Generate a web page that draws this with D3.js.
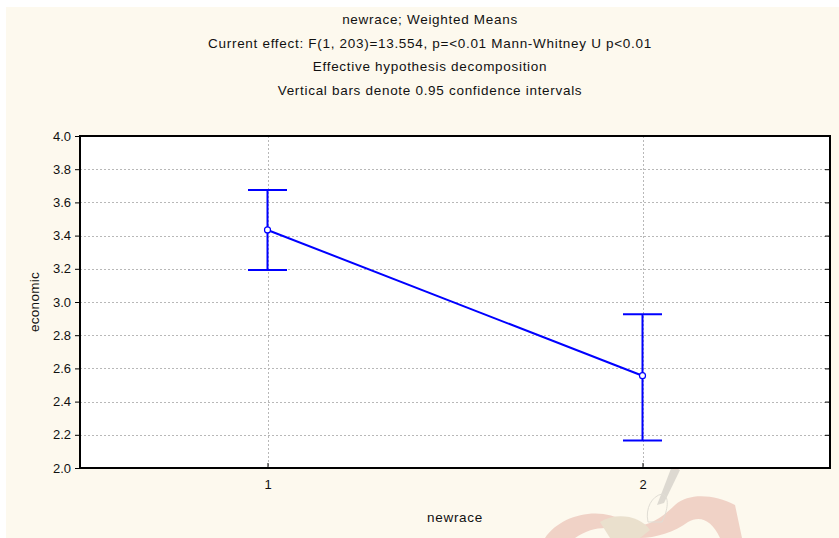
<!DOCTYPE html>
<html>
<head>
<meta charset="utf-8">
<script src="https://cdn.jsdelivr.net/npm/d3@7/dist/d3.min.js"></script>
<style>
  html, body { margin: 0; padding: 0; background: #ffffff; }
  svg { display: block; }
  text { font-family: "Liberation Sans", Arial, sans-serif; fill: #111; }
</style>
</head>
<body>
<svg id="chart" width="839" height="538"></svg>
<script>
// Weighted means of "economic" by newrace, with 0.95 confidence intervals
const categories = ["1", "2"];
const means = [3.434, 2.556];
const ciLower = [3.193, 2.166];
const ciUpper = [3.675, 2.926];
const yTicks = [2.0, 2.2, 2.4, 2.6, 2.8, 3.0, 3.2, 3.4, 3.6, 3.8, 4.0];
const titleLines = [
  "newrace; Weighted Means",
  "Current effect: F(1, 203)=13.554, p=<0.01 Mann-Whitney U p<0.01",
  "Effective hypothesis decomposition",
  "Vertical bars denote 0.95 confidence intervals"
];
const xLabel = "newrace";
const yLabel = "economic";

const W = 839, H = 538;
const plot = { left: 80, right: 830, top: 136, bottom: 468 };
const FONT = "Liberation Sans, Arial, sans-serif";

const svg = d3.select("#chart");

// panel background
svg.append("rect")
  .attr("x", 6).attr("y", 7)
  .attr("width", W - 6).attr("height", H - 7)
  .attr("fill", "#fdf9ee");

// faint emblem in the lower right corner of the panel
const emblem = svg.append("g").attr("opacity", 0.2);
emblem.append("path")   // ribbon
  .attr("d", "M545,538 C560,515 600,505 625,522 C640,532 660,520 675,505 C690,492 715,495 735,505 L742,538 L720,538 C712,520 700,515 688,522 C675,532 655,538 640,538 C625,530 600,520 575,538 Z")
  .attr("fill", "#c0392b");
emblem.append("path")
  .attr("d", "M600,522 C615,512 640,515 650,530 L640,538 L610,538 Z")
  .attr("fill", "#a08050");
emblem.append("path")   // torch handle
  .attr("d", "M657,505 L664,503 L680,470 L672,466 Z")
  .attr("fill", "#606060");
emblem.append("path")   // hand
  .attr("d", "M648,522 C645,508 652,496 662,494 C670,496 668,510 662,522 Z")
  .attr("fill", "none").attr("stroke", "#707070").attr("stroke-width", 1);
emblem.append("path")   // flame
  .attr("d", "M670,468 C668,458 675,452 684,446 C690,444 694,440 698,436 C696,446 693,455 688,462 C684,468 678,472 670,468 Z")
  .attr("fill", "#c0392b");

// titles
svg.append("g").selectAll("text")
  .data(titleLines)
  .join("text")
  .attr("x", 430)
  .attr("y", (d, i) => 24 + i * 23.7)
  .attr("text-anchor", "middle")
  .style("font-size", "13.5px")
  .attr("letter-spacing", 0.7)
  .text(d => d);

const x = d3.scalePoint().domain(categories).range([plot.left, plot.right]).padding(0.5);
const y = d3.scaleLinear().domain([2.0, 4.0]).range([plot.bottom, plot.top]);

// plot area
svg.append("rect")
  .attr("x", plot.left).attr("y", plot.top)
  .attr("width", plot.right - plot.left).attr("height", plot.bottom - plot.top)
  .attr("fill", "#ffffff");

// grid
const grid = svg.append("g").attr("stroke", "#b8b8b8").attr("stroke-width", 1)
  .attr("stroke-dasharray", "2,2");
grid.selectAll("line.h")
  .data(yTicks.filter(t => t > 2.0 && t < 4.0))
  .join("line")
  .attr("class", "h")
  .attr("x1", plot.left).attr("x2", plot.right)
  .attr("y1", d => Math.round(y(d)) + 0.5).attr("y2", d => Math.round(y(d)) + 0.5);
grid.selectAll("line.v")
  .data(categories)
  .join("line")
  .attr("class", "v")
  .attr("x1", d => Math.round(x(d)) + 0.5).attr("x2", d => Math.round(x(d)) + 0.5)
  .attr("y1", plot.top).attr("y2", plot.bottom);

// y axis (ticks outside on the left)
const yAxis = d3.axisLeft(y).tickValues(yTicks).tickFormat(d3.format(".1f"))
  .tickSizeInner(5).tickSizeOuter(0).tickPadding(4);
const gy = svg.append("g").attr("transform", `translate(${plot.left},0)`).call(yAxis);
gy.select(".domain").remove();
gy.selectAll(".tick line").attr("stroke", "#000");
gy.selectAll(".tick text").style("font-size", "13px").style("font-family", FONT).attr("fill", "#111");

// right side inner ticks
const yAxisR = d3.axisLeft(y).tickValues(yTicks).tickFormat("").tickSizeInner(5).tickSizeOuter(0);
const gyr = svg.append("g").attr("transform", `translate(${plot.right},0)`).call(yAxisR);
gyr.select(".domain").remove();
gyr.selectAll(".tick line").attr("stroke", "#000");

// x axis (ticks inside, pointing up)
const xAxis = d3.axisBottom(x).tickSizeInner(-5).tickSizeOuter(0).tickPadding(12);
const gx = svg.append("g").attr("transform", `translate(0,${plot.bottom})`).call(xAxis);
gx.select(".domain").remove();
gx.selectAll(".tick line").attr("stroke", "#000");
gx.selectAll(".tick text").style("font-size", "13px").style("font-family", FONT).attr("fill", "#111");

// frame
svg.append("rect")
  .attr("x", plot.left).attr("y", plot.top)
  .attr("width", plot.right - plot.left).attr("height", plot.bottom - plot.top)
  .attr("fill", "none").attr("stroke", "#000").attr("stroke-width", 2);

// axis titles
svg.append("text")
  .attr("x", 455).attr("y", 522)
  .attr("text-anchor", "middle").style("font-size", "13.5px").attr("letter-spacing", 0.7)
  .text(xLabel);
svg.append("text")
  .attr("transform", `translate(39,${(plot.top + plot.bottom) / 2}) rotate(-90)`)
  .attr("text-anchor", "middle").style("font-size", "13.5px").attr("letter-spacing", 0.3)
  .text(yLabel);

// data series
const data = categories.map((c, i) => ({ c, m: means[i], lo: ciLower[i], hi: ciUpper[i] }));
const blue = "#0000ff";
const capHalf = 19.5;

const bars = svg.append("g").attr("stroke", blue).attr("stroke-width", 2).attr("fill", "none");
bars.selectAll("line.whisker")
  .data(data).join("line").attr("class", "whisker")
  .attr("x1", d => x(d.c)).attr("x2", d => x(d.c))
  .attr("y1", d => y(d.lo)).attr("y2", d => y(d.hi));
bars.selectAll("line.capHi")
  .data(data).join("line").attr("class", "capHi")
  .attr("x1", d => x(d.c) - capHalf).attr("x2", d => x(d.c) + capHalf)
  .attr("y1", d => y(d.hi)).attr("y2", d => y(d.hi));
bars.selectAll("line.capLo")
  .data(data).join("line").attr("class", "capLo")
  .attr("x1", d => x(d.c) - capHalf).attr("x2", d => x(d.c) + capHalf)
  .attr("y1", d => y(d.lo)).attr("y2", d => y(d.lo));

svg.append("path")
  .datum(data)
  .attr("fill", "none").attr("stroke", blue).attr("stroke-width", 2)
  .attr("d", d3.line().x(d => x(d.c)).y(d => y(d.m)));

svg.append("g").selectAll("circle")
  .data(data).join("circle")
  .attr("cx", d => x(d.c)).attr("cy", d => y(d.m)).attr("r", 3)
  .attr("fill", "#ffffff").attr("stroke", blue).attr("stroke-width", 1.2);
</script>
</body>
</html>
